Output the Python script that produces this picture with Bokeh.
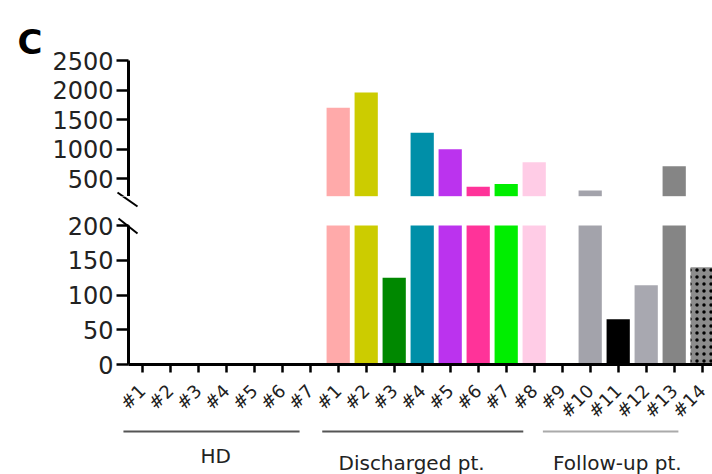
import numpy as np
from bokeh.plotting import figure
from bokeh.models import Range1d, FixedTicker, Label, ColumnDataSource
from bokeh.layouts import column
from bokeh.embed import file_html
from bokeh.resources import INLINE
from bokeh.core.properties import value

# ---------------- data ----------------
group_names = ["HD", "Discharged pt.", "Follow-up pt."]
group_sizes = [7, 8, 6]
tick_labels = ["#1", "#2", "#3", "#4", "#5", "#6", "#7",
               "#1", "#2", "#3", "#4", "#5", "#6", "#7", "#8",
               "#9", "#10", "#11", "#12", "#13", "#14"]
values = [0, 0, 0, 0, 0, 0, 0,
          1700, 1960, 125, 1280, 1000, 365, 410, 780,
          0, 300, 65, 114, 710, 140]
bar_colors = ["#ffffff"] * 7 + [
    "#ffaaaa", "#cccc00", "#008800", "#008fa8", "#bb33ee", "#ff3399", "#00ee00", "#ffcce6",
    "#ffffff", "#a3a3ab", "#000000", "#a8a8b0", "#858585", "#8c8c8c"]
hatches = [" "] * 20 + ["."]
upper_ticks = [500, 1000, 1500, 2000, 2500]
lower_ticks = [0, 50, 100, 150, 200]
BREAK = 200   # axis break level shared by both panels

# ---------------- geometry (pixels -> data helpers) ----------------
W, H1, H2 = 712, 196, 278
FONT = "DejaVu Sans"
X0PX, DX = 141.7, 28.0            # pixel of first category, pixels per category
K1 = 2300 / 136.0                 # upper panel units per pixel (break at frame bottom)
K2 = 200 / 139.0                  # lower panel units per pixel (break 29 px below top)


def xd(px):
    return (px - X0PX) / DX


def y1d(py):
    return BREAK + (H1 - py) * K1


def y2d(py):
    return BREAK + (H1 + 29 - py) * K2


xs = list(range(len(values)))
x_range = Range1d(xd(0), xd(W))
AXIS_X = xd(128)

src = ColumnDataSource(dict(x=xs, top=values, color=bar_colors, hatch=hatches))


def style_common(p):
    p.outline_line_color = None
    p.xgrid.grid_line_color = None
    p.ygrid.grid_line_color = None
    p.background_fill_color = "white"
    p.border_fill_color = "white"


def style_yaxis(ax, ticks, bounds):
    ax.fixed_location = AXIS_X
    ax.bounds = bounds
    ax.ticker = FixedTicker(ticks=ticks)
    ax.axis_line_width = 3
    ax.axis_line_color = "black"
    ax.major_tick_line_width = 2.5
    ax.major_tick_line_color = "black"
    ax.major_tick_out = 12
    ax.major_tick_in = 0
    ax.minor_tick_line_color = None
    ax.major_label_standoff = 3
    ax.major_label_text_font = FONT
    ax.major_label_text_font_size = "24px"
    ax.major_label_text_color = "#222222"


# ---------------- upper panel ----------------
p1 = figure(width=W, height=H1, x_range=x_range, y_range=Range1d(y1d(H1), y1d(0)),
            x_axis_location=None, output_backend="svg", toolbar_location=None,
            min_border=0)
style_common(p1)
style_yaxis(p1.yaxis[0], upper_ticks, (y1d(H1 + 4), 2500))
p1.vbar(x="x", top="top", bottom=0, width=0.83, fill_color="color", line_color=None, source=src)

p1.add_layout(Label(x=xd(17), y=y1d(41), text="C", text_font=FONT, text_font_size="34px",
                    text_font_style="bold", text_color="black", text_baseline="alphabetic"))
# break mark crossing the upper axis end (drawn in both panels, each clipped to its frame)
p1.segment(x0=[xd(117)], y0=[y1d(192)], x1=[xd(137)], y1=[y1d(206)],
           line_color="black", line_width=2)

# ---------------- lower panel ----------------
p2 = figure(width=W, height=H2, x_range=x_range, y_range=Range1d(y2d(H1 + H2), y2d(H1)),
            output_backend="svg", toolbar_location=None, min_border=0)
style_common(p2)
style_yaxis(p2.yaxis[0], lower_ticks, (0, BREAK))
p2.vbar(x="x", top="top", bottom=0, width=0.83, fill_color="color", line_color=None,
        hatch_pattern="hatch", hatch_color="black", hatch_scale=7, hatch_weight=4, source=src)
# blank the gap above the break level
p2.quad(left=[xd(0)], right=[xd(W)], bottom=[BREAK], top=[y2d(H1)],
        fill_color="white", line_color=None)
p2.segment(x0=[xd(117), xd(118)], y0=[y2d(192), y2d(218)],
           x1=[xd(137), xd(137)], y1=[y2d(206), y2d(233)],
           line_color="black", line_width=2)

xa = p2.xaxis[0]
xa.fixed_location = 0
xa.bounds = (AXIS_X, xd(W))
xa.ticker = FixedTicker(ticks=xs)
xa.major_label_overrides = {i: lab for i, lab in zip(xs, tick_labels)}
xa.major_label_orientation = np.pi / 4
xa.axis_line_width = 3
xa.axis_line_color = "black"
xa.major_tick_line_width = 2.5
xa.major_tick_out = 8
xa.major_tick_in = 0
xa.minor_tick_line_color = None
xa.major_label_standoff = 15
xa.major_label_text_font = FONT
xa.major_label_text_font_size = "18px"
xa.major_label_text_color = "#222222"

# ---------------- group brackets ----------------
starts = np.cumsum([0] + group_sizes[:-1])
ends = starts + np.array(group_sizes) - 1
trim_left = np.array([0.67, 0.57, 0.69])
trim_right = np.array([0.38, 0.39, 0.85])
label_shift = np.array([0.15, -0.4, 0.24])
gx0 = starts - trim_left
gx1 = ends - trim_right
p2.segment(x0=gx0, y0=[y2d(431)] * 3, x1=gx1, y1=[y2d(431)] * 3,
           line_color=["#555555", "#555555", "#aaaaaa"], line_width=2)
p2.text(x=(gx0 + gx1) / 2 + label_shift, y=[y2d(455), y2d(462), y2d(462)], text=group_names,
        text_font=value(FONT), text_font_size="20px", text_color="#222222",
        text_align="center", text_baseline="middle")

layout = column(p1, p2)
open("out.html", "w").write(file_html(layout, INLINE))
